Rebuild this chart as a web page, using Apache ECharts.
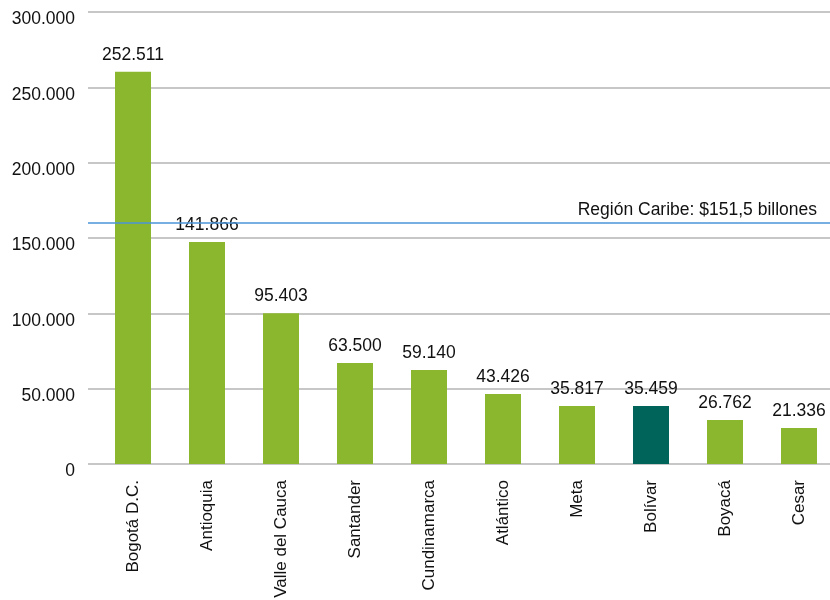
<!DOCTYPE html>
<html>
<head>
<meta charset="utf-8">
<script src="https://cdn.jsdelivr.net/npm/echarts@6/dist/echarts.min.js"></script>
<style>
  html, body { margin: 0; padding: 0; background: #fff; }
  #chart { width: 830px; height: 600px; }
</style>
</head>
<body>
<div id="chart"></div>
<script>
// departamentos
const categories = ['Bogotá D.C.', 'Antioquia', 'Valle del Cauca', 'Santander', 'Cundinamarca',
  'Atlántico', 'Meta', 'Bolívar', 'Boyacá', 'Cesar']
// bar heights as drawn in the picture
const barValues = [260300, 147400, 100100, 67100, 62400, 46500, 38500, 38500, 29200, 23900]
// printed value labels
const valueLabels = ['252.511', '141.866', '95.403', '63.500', '59.140', '43.426', '35.817', '35.459', '26.762', '21.336']
const yTicks = [0, 50000, 100000, 150000, 200000, 250000, 300000]
const caribeLine = 160000
const caribeText = 'Región Caribe: $151,5 billones'
const highlight = 'Bolívar'

const font = '"Liberation Sans", Arial, sans-serif'
const chart = echarts.init(document.getElementById('chart'))

const fmt = v => v === 0 ? '0' : String(v / 1000) + '.000'

const option = {
  animation: false,
  grid: [
    { left: 88, right: 0, top: 12, height: 452, outerBoundsMode: 'none' },
    { left: 96, right: -6, top: 12, height: 452, outerBoundsMode: 'none' }
  ],
  xAxis: [
    { gridIndex: 0, type: 'value', min: 0, max: 1, show: false },
    {
      gridIndex: 1,
      type: 'category',
      data: categories,
      axisLine: { show: false },
      axisTick: { show: false },
      axisLabel: {
        rotate: 90,
        margin: 16,
        fontFamily: font,
        fontSize: 17,
        color: '#111',
        interval: 0
      }
    }
  ],
  yAxis: [
    {
      gridIndex: 0,
      type: 'value',
      min: yTicks[0],
      max: yTicks[yTicks.length - 1],
      interval: 50000,
      axisLine: { show: false },
      axisTick: { show: false },
      axisLabel: {
        margin: 13,
        fontFamily: font,
        fontSize: 17.5,
        color: '#111',
        verticalAlign: 'top',
        lineHeight: 17,
        padding: [-1, 0, 0, 0],
        formatter: fmt
      },
      splitLine: { lineStyle: { color: '#b4b4b4', width: 1.5 } }
    },
    {
      gridIndex: 1,
      type: 'value',
      min: yTicks[0],
      max: yTicks[yTicks.length - 1],
      show: false
    }
  ],
  series: [
    {
      type: 'line',
      xAxisIndex: 0,
      yAxisIndex: 0,
      data: [],
      silent: true,
      markLine: {
        silent: true,
        symbol: 'none',
        lineStyle: { color: '#4a95d8', width: 1.5, type: 'solid' },
        label: {
          position: 'insideEndTop',
          distance: [13, 4],
          fontFamily: font,
          fontSize: 17.5,
          color: '#111',
          formatter: caribeText
        },
        data: [{ yAxis: caribeLine }]
      }
    },
    {
      type: 'bar',
      xAxisIndex: 1,
      yAxisIndex: 1,
      data: barValues,
      barWidth: 36,
      itemStyle: {
        color: p => p.name === highlight ? '#00645a' : '#8bb72e'
      },
      label: {
        show: true,
        position: 'top',
        distance: 8,
        fontFamily: font,
        fontSize: 17.5,
        color: '#111',
        formatter: p => valueLabels[p.dataIndex]
      }
    }
  ]
}

chart.setOption(option)
</script>
</body>
</html>
